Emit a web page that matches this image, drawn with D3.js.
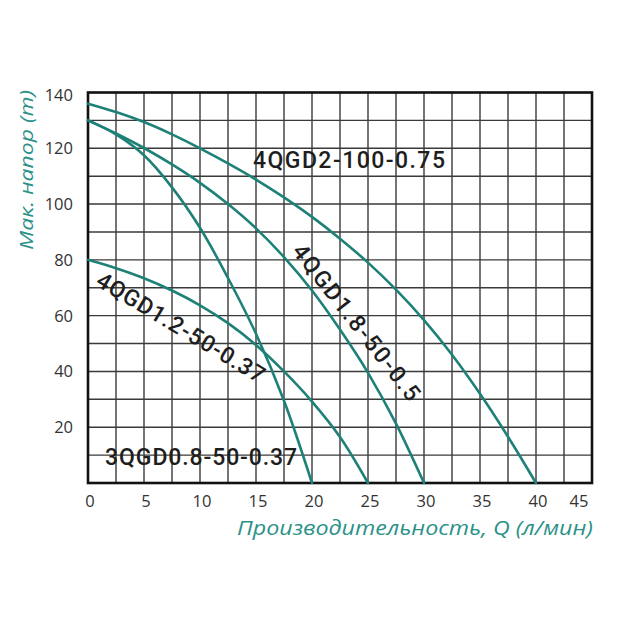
<!DOCTYPE html>
<html>
<head>
<meta charset="utf-8">
<script src="https://cdn.jsdelivr.net/npm/d3@7/dist/d3.min.js"></script>
<style>
  html, body { margin: 0; padding: 0; background: #fff; }
  svg { display: block; }
</style>
</head>
<body>
<svg id="chart" width="631" height="624"></svg>
<script>
// ---- data ----
const xTicks = [0, 5, 10, 15, 20, 25, 30, 35, 40, 45];
const yTicks = [20, 40, 60, 80, 100, 120, 140];
const xTitle = "Производительность, Q (л/мин)";
const yTitle = "Мак. напор (m)";

const seriesNames = ["4QGD2-100-0.75", "4QGD1.8-50-0.5", "4QGD1.2-50-0.37", "3QGD0.8-50-0.37"];

// flow Q (l/min) and head H (m) for each curve
const flowA = [0, 2.5, 5, 7.5, 10, 12.5, 15, 17.5, 20, 22.5, 25, 27.5, 30, 32.5, 35, 37.5, 40];
const headA = [136, 133, 129.4, 125, 120, 114.6, 108.8, 102.4, 95.4, 87.6, 79, 69.3, 58.4, 46, 32, 16.6, 0];

const flowB = [0, 2.5, 5, 7.5, 10, 12.5, 15, 17.5, 20, 22.5, 25, 27.5, 30];
const headB = [130, 125.3, 120.1, 114.2, 107.6, 100, 91.3, 81, 69, 55, 39.5, 21.3, 0];

const flowC = [0, 2.5, 5, 7.5, 10, 12.5, 15, 17.5, 20, 22.5, 25];
const headC = [80, 77, 73.4, 69, 63.7, 57.3, 49.5, 40, 29.2, 16.5, 0];

const flowD = [0, 2.5, 5, 7.5, 10, 12.5, 15, 17.5, 20];
const headD = [130, 125, 117.5, 106, 91.5, 73.5, 53.5, 29.5, 0];

// label anchors (data units) and rotation
const labelQ = [23.3, 24.0, 8.3, 10.1];
const labelH = [115.8, 57.7, 55.9, 9.5];
const labelAngle = [0, 52, 31, 0];

// ---- drawing ----
const plot = { left: 88, right: 592, top: 92.5, bottom: 483 };
const svg = d3.select("#chart");

const x = d3.scaleLinear().domain([0, 45]).range([plot.left, plot.right]);
const y = d3.scaleLinear().domain([0, 140]).range([plot.bottom, plot.top]);

const teal = "#1d8177";
const titleTeal = "#2b9188";

// grid
const grid = svg.append("g");
grid.selectAll("line.v").data(d3.range(2.5, 45, 2.5)).join("line")
  .attr("x1", d => x(d)).attr("x2", d => x(d))
  .attr("y1", y(140)).attr("y2", y(0))
  .attr("stroke", "#3a3a3a").attr("stroke-width", 1.4);
grid.selectAll("line.h").data(d3.range(10, 140, 10)).join("line")
  .attr("x1", x(0)).attr("x2", x(45))
  .attr("y1", d => y(d)).attr("y2", d => y(d))
  .attr("stroke", "#3a3a3a").attr("stroke-width", 1.4);

// frame
svg.append("rect")
  .attr("x", x(0)).attr("y", y(140))
  .attr("width", x(45) - x(0)).attr("height", y(0) - y(140))
  .attr("fill", "none").attr("stroke", "#111").attr("stroke-width", 2.6);

// curves
const series = [
  { q: flowA, h: headA },
  { q: flowB, h: headB },
  { q: flowC, h: headC },
  { q: flowD, h: headD }
];
const line = d3.line().x(d => x(d[0])).y(d => y(d[1])).curve(d3.curveCatmullRom.alpha(0.5));
svg.append("g").selectAll("path").data(series).join("path")
  .attr("d", s => line(s.q.map((q, i) => [q, s.h[i]])))
  .attr("fill", "none").attr("stroke", teal).attr("stroke-width", 2.6)
  .attr("stroke-linecap", "round");

// curve labels
svg.append("g").selectAll("text").data(seriesNames).join("text")
  .attr("transform", (d, i) => `translate(${x(labelQ[i])},${y(labelH[i])}) rotate(${labelAngle[i]})`)
  .attr("text-anchor", "middle")
  .attr("dy", "0.36em")
  .attr("font-family", "Roboto, 'Noto Sans', sans-serif")
  .attr("font-size", 23)
  .attr("font-weight", 500)
  .attr("fill", "#1e1e1e")
  .attr("textLength", 192)
  .attr("lengthAdjust", "spacing")
  .text(d => d);

// x tick labels
svg.append("g").selectAll("text").data(xTicks).join("text")
  .attr("x", d => x(d) + (d === 45 ? -13 : 2))
  .attr("y", 507)
  .attr("text-anchor", "middle")
  .attr("font-family", "'Open Sans', sans-serif")
  .attr("font-size", 16.5)
  .attr("fill", "#333")
  .text(d => d);

// y tick labels
svg.append("g").selectAll("text").data(yTicks).join("text")
  .attr("x", 73)
  .attr("y", d => y(d) + (d === 140 ? 3 : 0))
  .attr("dy", "0.36em")
  .attr("text-anchor", "end")
  .attr("font-family", "'Open Sans', sans-serif")
  .attr("font-size", 16.5)
  .attr("fill", "#333")
  .text(d => d);

// axis titles
svg.append("text")
  .attr("x", 415).attr("y", 535)
  .attr("text-anchor", "middle")
  .attr("font-family", "'Open Sans', sans-serif")
  .attr("font-style", "italic")
  .attr("font-size", 20)
  .attr("fill", titleTeal)
  .attr("textLength", 356)
  .attr("lengthAdjust", "spacingAndGlyphs")
  .text(xTitle);

svg.append("text")
  .attr("transform", "translate(33,170) rotate(-90)")
  .attr("text-anchor", "middle")
  .attr("font-family", "'Open Sans', sans-serif")
  .attr("font-style", "italic")
  .attr("font-size", 19)
  .attr("fill", titleTeal)
  .attr("textLength", 160)
  .attr("lengthAdjust", "spacingAndGlyphs")
  .text(yTitle);
</script>
</body>
</html>
